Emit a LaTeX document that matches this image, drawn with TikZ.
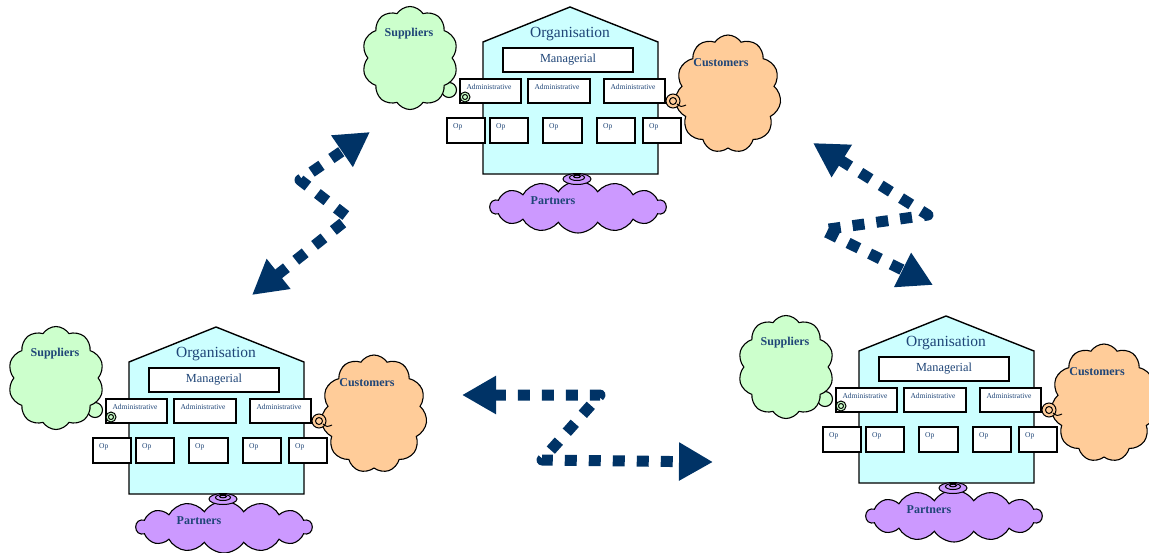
\documentclass[tikz,border=0pt]{standalone}
\usepackage{fontspec}
\setmainfont{Liberation Serif}
\usetikzlibrary{shapes.symbols,arrows.meta}
\definecolor{navy}{HTML}{003366}
\definecolor{txt}{HTML}{1F4577}
\definecolor{housefill}{HTML}{CCFFFF}
\definecolor{supfill}{HTML}{CCFFCC}
\definecolor{cusfill}{HTML}{FFCC99}
\definecolor{parfill}{HTML}{CC99FF}
\tikzset{
  housestyle/.style={draw=black, fill=housefill, line width=1.4pt, line join=miter},
  unitbox/.style={draw=black, fill=white, line width=1.4pt, inner sep=0pt, minimum height=24pt},
  cloudnode/.style={cloud, cloud ignores aspect, draw=black, line width=1.1pt, inner sep=0pt, cloud puff arc=115},
  cloudlbl/.style={font=\fontsize{12}{12}\selectfont\bfseries, text=txt, inner sep=0pt},
  titletxt/.style={font=\fontsize{15.5}{16}\selectfont, text=txt, inner sep=0pt},
  mgrtxt/.style={font=\fontsize{12.3}{13}\selectfont, text=txt},
  admintxt/.style={font=\fontsize{7.5}{8}\selectfont, text=txt, inner sep=1pt, anchor=north},
  optxt/.style={font=\fontsize{7.5}{8}\selectfont, text=txt, inner sep=1pt, anchor=north west},
  conn/.style={draw=black, line width=1pt},
  flow/.style={draw=navy, line width=11pt, dash pattern=on 12pt off 12pt, line join=round,
    {Triangle[length=34pt,width=36pt]}-{Triangle[length=34pt,width=36pt]}},
  org/.pic={
    % clouds
    \draw[line width=1.1pt, fill=supfill] (449,90) circle[radius=7.5];
    \node[cloudnode, fill=supfill, cloud puffs=10, minimum width=96pt, minimum height=103pt] (-sup) at (410,58) {};
    \node[cloudnode, fill=cusfill, cloud puffs=11, minimum width=106pt, minimum height=118pt] (-cus) at (728,94) {};
    \node[cloudnode, fill=parfill, cloud puffs=14, minimum width=176pt, minimum height=52pt] (-par) at (578,207) {};
    % house
    \draw[housestyle] (483,174) -- (483,42) -- (570,7) -- (658,42) -- (658,174) -- cycle;
    \node[titletxt] (-title) at (570,34.5) {Organisation};
    \node[unitbox, minimum width=130pt, mgrtxt] (-mgr) at (568,60) {Managerial};
    % administrative
    \node[unitbox, minimum width=61pt] (-a1) at (490.5,91) {};
    \node[unitbox, minimum width=62pt] (-a2) at (559,91) {};
    \node[unitbox, minimum width=61pt] (-a3) at (634.5,91) {};
    \node[admintxt] (-a1t) at (489,83) {Administrative};
    \node[admintxt] (-a2t) at (557,83) {Administrative};
    \node[admintxt] (-a3t) at (633,83) {Administrative};
    % operational
    \node[unitbox, minimum width=38pt, minimum height=25pt] (-o1) at (466,130.5) {};
    \node[unitbox, minimum width=38pt, minimum height=25pt] (-o2) at (509,130.5) {};
    \node[unitbox, minimum width=39pt, minimum height=25pt] (-o3) at (562.5,130.5) {};
    \node[unitbox, minimum width=38pt, minimum height=25pt] (-o4) at (616,130.5) {};
    \node[unitbox, minimum width=38pt, minimum height=25pt] (-o5) at (662,130.5) {};
    \node[optxt] (-o1t) at (452,122.5) {Op};
    \node[optxt] (-o2t) at (495,122.5) {Op};
    \node[optxt] (-o3t) at (548,122.5) {Op};
    \node[optxt] (-o4t) at (602,122.5) {Op};
    \node[optxt] (-o5t) at (648,122.5) {Op};
    % cloud labels
    \node[cloudlbl] (-suplbl) at (409,34) {Suppliers};
    \node[cloudlbl] (-cuslbl) at (721,63) {Customers};
    \node[cloudlbl] (-parlbl) at (553,201) {Partners};
    % connectors
    \draw[conn, fill=supfill] (465,97) circle[radius=5];
    \draw[conn] (465,97) circle[radius=2.5];
    \draw[conn, fill=cusfill] (673,101) circle[radius=7];
    \draw[conn] (673,101) circle[radius=3.5];
    \draw[conn] (677,104) .. controls (681,107) .. (686,105);
    \draw[conn, fill=parfill] (577,179) ellipse[x radius=14, y radius=5.5];
    \draw[conn] (577,177.5) ellipse[x radius=7.5, y radius=3];
    \draw[conn] (577,176.5) ellipse[x radius=3.5, y radius=1.3];
  }
}
\begin{document}
\begin{tikzpicture}[x=1pt,y=-1pt]
\useasboundingbox (0,0) rectangle (1149,552);
\pic (top) at (0,0) {org};
\pic (lft) at (-354,320) {org};
\pic (rgt) at (376,309) {org};
% flow arrows
\coordinate (f1s) at (252,295);
\coordinate (f1b) at (349,218);
\coordinate (f1c) at (300,180);
\coordinate (f1e) at (370,132);
\draw[flow] (f1s) -- (f1b) -- (f1c) -- (f1e);
\coordinate (f2s) at (813,143);
\coordinate (f2b) at (928,215);
\coordinate (f2c) at (822,230);
\coordinate (f2e) at (933,285);
\draw[flow] (f2s) -- (f2b) -- (f2c) -- (f2e);
\coordinate (f3s) at (462,395);
\coordinate (f3b) at (600,395);
\coordinate (f3c) at (542,460);
\coordinate (f3e) at (713,462);
\draw[flow] (f3s) -- (f3b) -- (f3c) -- (f3e);
\end{tikzpicture}
\end{document}
